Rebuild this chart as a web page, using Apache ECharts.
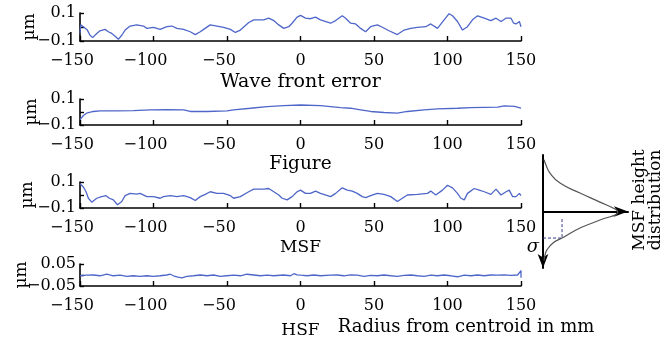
<!DOCTYPE html>
<html><head><meta charset="utf-8">
<script src="https://cdn.jsdelivr.net/npm/echarts@6/dist/echarts.min.js"></script>
<style>html,body{margin:0;padding:0;background:#fff}#c{width:665px;height:340px}</style>
</head><body><div id="c"></div>
<script>
// ---- data ----
const xTicks = [-150, -100, -50, 0, 50, 100, 150];
const panelTitles = ['Wave front error', 'Figure', 'MSF', 'HSF'];

const wfeX = [-150,-149.5,-147.7,-145,-143.2,-141.4,-138.6,-136.4,-133,-130.7,-128.4,-126.1,-123.9,-121.6,-119.3,-115.9,-111.4,-106.8,-104.5,-100,-95.5,-90.9,-87.5,-84.1,-79.5,-75,-71.6,-68.2,-65.9,-61.4,-56.8,-52.3,-47.7,-44.3,-40.9,-35.2,-31.8,-25,-21.6,-18.2,-14.8,-11.4,-8,-5.7,-2.3,0,3.4,6.8,10.2,13.6,20.5,23.9,28.4,30.7,34.1,37.5,40.9,44.3,47.7,52.3,55.7,60.2,65.9,70.5,75,79.5,85.2,88.6,93.2,97.7,101.1,103.4,106.8,110.2,111.4,113.6,117,120.5,125,129.5,133,136.4,139.8,143.2,145,146.6,148.9,150];
const wfeY = [-0.046,0.015,0.002,-0.022,-0.059,-0.076,-0.046,-0.027,-0.017,-0.034,-0.046,-0.066,-0.088,-0.059,-0.022,0.007,0.015,0.007,-0.010,-0.002,-0.017,0.002,0.007,-0.010,-0.017,-0.034,-0.054,-0.034,-0.017,0.015,0.007,-0.002,-0.017,-0.039,-0.022,0.032,0.051,0.051,0.063,0.046,0.015,-0.010,0.002,0.027,0.071,0.083,0.063,0.059,0.071,0.051,0.027,0.046,0.080,0.063,0.027,0.022,-0.010,-0.034,0.002,0.015,-0.002,-0.027,-0.054,-0.022,-0.010,-0.002,0.002,0.022,-0.010,0.051,0.095,0.080,0.039,-0.022,-0.034,0.002,0.051,0.080,0.063,0.046,0.063,0.039,0.063,0.063,0.027,0.022,0.039,0.002];

const figX = [-150,-147.7,-145.5,-140.9,-136.4,-125,-113.6,-102.3,-90.9,-79.5,-75,-63.6,-50,-45.5,-34.1,-22.7,-11.4,0,13.6,20.5,27.3,34.1,40.9,47.7,56.8,65.9,72.7,84.1,93.2,106.8,115.9,134.1,138.6,145.5,150];
const figY = [-0.059,-0.027,-0.009,0.004,0.009,0.009,0.011,0.017,0.019,0.017,0.004,0.004,0.009,0.017,0.029,0.042,0.049,0.054,0.049,0.042,0.034,0.029,0.017,0.004,-0.004,-0.009,0.004,0.017,0.024,0.029,0.034,0.037,0.047,0.044,0.029];

const msfX = [-150,-147.7,-145.9,-144.3,-142,-138.6,-135.2,-132.3,-130,-127.3,-124.5,-121.6,-119.3,-115.9,-111.4,-109.1,-104.5,-100,-95.5,-93.2,-88.6,-84.1,-79.5,-75,-71.6,-68.2,-64.8,-61.4,-56.8,-52.3,-47.7,-45.5,-40.9,-35.2,-31.8,-25,-21.6,-18.2,-14.8,-12.5,-9.1,-5.7,-2.3,0,3.4,6.8,10.2,13.6,20.5,23.9,28.4,31.8,35.2,38.6,42,44.3,47.7,52.3,56.8,61.4,65.9,69.3,72.7,79.5,86.4,88.6,92,96.6,100,103.4,106.8,109.1,111.4,113.6,118.2,121.6,125,129.5,133,136.4,139.8,142,144.3,146.6,148.9,150];
const msfY = [0.087,0.062,0.025,-0.025,-0.055,-0.025,-0.0125,-0.005,-0.025,-0.0375,-0.075,-0.05,-0.005,0.0125,0.0075,0.0125,-0.0125,-0.0125,-0.025,-0.0125,-0.005,-0.0125,-0.005,-0.02,-0.0425,-0.0125,0.005,0.025,0.0125,0.0125,-0.005,-0.025,-0.0125,0.025,0.045,0.045,0.05,0.025,0,-0.025,-0.0375,-0.0125,0.025,0.0375,0.0125,0.0125,0.03,0.0125,-0.0125,0.0125,0.055,0.0375,0.03,0.0125,-0.0125,-0.02,-0.005,0.0125,0.005,-0.0125,-0.05,-0.025,0,0.005,0.0125,0.03,0,0.0375,0.075,0.055,0.0125,-0.025,-0.0375,0.0125,0.05,0.0375,0.025,0.005,0.045,0,0.025,0.0375,-0.0125,-0.0125,0.0125,-0.005];

const hsfX = [-150,-148.9,-145.5,-140.9,-136.4,-131.8,-127.3,-122.7,-118.2,-113.6,-109.1,-104.5,-100,-95.5,-90.9,-88.6,-86.4,-84.1,-80.7,-77.3,-72.7,-68.2,-63.6,-59.1,-54.5,-50,-45.5,-40.9,-36.4,-31.8,-27.3,-22.7,-18.2,-11.4,-6.8,-4.5,-2.3,0,4.5,9.1,13.6,20.5,25,29.5,34.1,38.6,43.2,47.7,52.3,56.8,61.4,65.9,70.5,75,79.5,84.1,88.6,93.2,97.7,102.3,106.8,111.4,115.9,120.5,125,129.5,134.1,138.6,143.2,147.7,148.9,150,150];
const hsfY = [-0.0035,0.0035,-0.001,0,-0.0035,0.0035,-0.0035,-0.001,-0.006,-0.0035,-0.006,-0.0035,-0.006,-0.0035,0,0.0035,-0.0035,-0.008,-0.013,-0.006,-0.0035,0,-0.0035,0,-0.006,-0.0035,-0.001,-0.0035,0.0035,0,-0.0035,-0.001,-0.0035,0,-0.0035,0.006,0.001,-0.001,-0.0035,0,-0.0035,-0.001,0,-0.0035,0.001,-0.001,-0.006,-0.002,-0.0035,0,-0.0035,-0.006,-0.002,0,-0.0035,-0.006,-0.001,-0.0035,0,-0.0035,-0.008,-0.001,-0.0035,0,-0.0035,0,-0.001,0.001,-0.002,0,0.008,0.02,-0.012];

// schematic height distribution (x: relative frequency, y: height in sigma, downwards)
const distX = [0.012,0.035,0.082,0.2,0.435,0.67,0.847,0.88,0.67,0.435,0.224,0.118,0.047,0.024,0.012];
const distY = [-2.75,-2.47,-2.04,-1.51,-0.98,-0.5,-0.13,0.03,0.45,0.88,1.41,1.67,2.04,2.31,2.6];
const sigmaX = [0, 0.224, 0.224];
const sigmaY = [1.41, 1.41, 0.40];

// ---- chart ----
const FONT = 'DejaVu Serif';
const zip = (a, b) => a.map((v, i) => [v, b[i]]);
const minus = v => { const n = Number((+v).toFixed(3)); return n < 0 ? '\u2212' + Math.abs(n) : String(n); };
// negative x labels: digits centred on the tick, minus hanging to the left (balanced by an em space)
const xFmt = v => { const n = Number((+v).toFixed(3)); return n < 0 ? '\u2212' + Math.abs(n) + '\u2003' : String(n); };
const BLUE = '#4f66c9';

const grids = [
  {left: 80, top: 13, width: 441, height: 28},
  {left: 80, top: 99, width: 441, height: 26},
  {left: 80, top: 182, width: 441, height: 26},
  {left: 80, top: 264, width: 441, height: 29},
  {left: 543, top: 155, width: 85, height: 113}
];
const yRanges = [0.1, 0.1, 0.1, 0.05];
const nameGaps = [42, 40, 43.5, 50];
const titleGaps = [32, 30, 31, 36];
const titleSizes = [19, 18.5, 17, 17];

const xAxes = [], yAxes = [], series = [];
const lineData = [zip(wfeX, wfeY), zip(figX, figY), zip(msfX, msfY), zip(hsfX, hsfY)];
const tickText = {fontFamily: FONT, fontSize: 16, color: '#000'};
for (let i = 0; i < 4; i++) {
  xAxes.push({
    gridIndex: i, type: 'value', min: -150, max: 150, interval: 50,
    axisLine: {onZero: false, lineStyle: {color: '#000', width: 1.6}},
    axisTick: {inside: true, length: 5, lineStyle: {color: '#000', width: 1.4}},
    axisLabel: Object.assign({margin: 12, formatter: xFmt}, tickText),
    splitLine: {show: false},
    name: panelTitles[i], nameLocation: 'middle', nameGap: titleGaps[i], nameMoveOverlap: false,
    nameTextStyle: {fontFamily: FONT, fontSize: titleSizes[i], color: '#000'}
  });
  const r = yRanges[i];
  yAxes.push({
    gridIndex: i, type: 'value', min: -r, max: r, interval: r,
    axisLine: {show: true, onZero: false, lineStyle: {color: '#000', width: 1.6}},
    axisTick: {show: true, inside: true, length: 4, lineStyle: {color: '#000', width: 1.4}},
    axisLabel: Object.assign({margin: 4, formatter: v => Math.abs(v) < 1e-9 ? '' : minus(v)}, tickText),
    splitLine: {show: false},
    name: '\u00b5m', nameLocation: 'middle', nameRotate: 90, nameGap: nameGaps[i], nameMoveOverlap: false,
    nameTextStyle: {fontFamily: FONT, fontSize: 17, color: '#000'}
  });
  series.push({
    type: 'line', xAxisIndex: i, yAxisIndex: i, data: lineData[i],
    showSymbol: false, lineStyle: {color: BLUE, width: 1.3}, color: BLUE, animation: false
  });
}
xAxes.push({
  gridIndex: 4, type: 'value', min: 0, max: 1,
  axisLine: {onZero: true, symbol: ['none', 'arrow'], symbolSize: [8, 14], lineStyle: {color: '#000', width: 2}},
  axisTick: {show: false}, axisLabel: {show: false}, splitLine: {show: false}
});
yAxes.push({
  gridIndex: 4, type: 'value', min: -3, max: 3, inverse: true,
  axisLine: {show: true, onZero: false, symbol: ['arrow', 'none'], symbolSize: [8, 14], lineStyle: {color: '#000', width: 2}},
  axisTick: {show: false}, axisLabel: {show: false}, splitLine: {show: false}
});
series.push({
  type: 'line', xAxisIndex: 4, yAxisIndex: 4, data: zip(distX, distY), smooth: true,
  showSymbol: false, lineStyle: {color: '#555', width: 1.2}, animation: false
});
series.push({
  type: 'line', xAxisIndex: 4, yAxisIndex: 4, data: zip(sigmaX, sigmaY),
  showSymbol: false, lineStyle: {color: '#3a3a8c', width: 1, type: [3, 2]}, animation: false
});

const chart = echarts.init(document.getElementById('c'), null, {renderer: 'canvas'});
chart.setOption({
  animation: false,
  backgroundColor: '#fff',
  textStyle: {fontFamily: FONT},
  grid: grids, xAxis: xAxes, yAxis: yAxes, series: series,
  graphic: [
    {type: 'text', x: 466, y: 327, style: {text: 'Radius from centroid in mm', font: '18px "DejaVu Serif"', fill: '#000', textAlign: 'center', textVerticalAlign: 'middle'}},
    {type: 'text', x: 533, y: 247, style: {text: '\u03c3', font: 'italic 18px "DejaVu Serif"', fill: '#000', textAlign: 'center', textVerticalAlign: 'middle'}},
    {type: 'text', x: 640, y: 200, rotation: Math.PI / 2, style: {text: 'MSF height', font: '17px "DejaVu Serif"', fill: '#000', textAlign: 'center', textVerticalAlign: 'middle'}},
    {type: 'text', x: 656, y: 200, rotation: Math.PI / 2, style: {text: 'distribution', font: '17px "DejaVu Serif"', fill: '#000', textAlign: 'center', textVerticalAlign: 'middle'}}
  ]
});
</script>
</body></html>
